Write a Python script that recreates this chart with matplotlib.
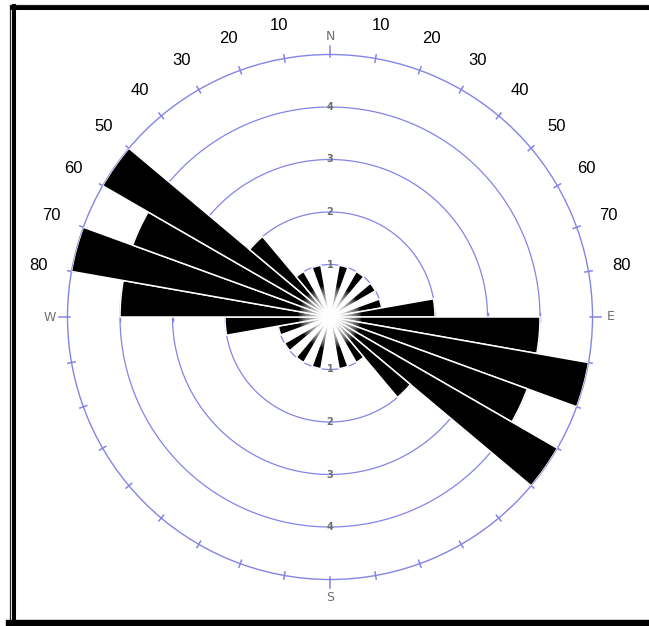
import numpy as np
import matplotlib
matplotlib.use("Agg")
import matplotlib.pyplot as plt
from matplotlib.lines import Line2D

# Bidirectional rose: counts per 10-degree strike bin (0-180, mirrored to 180-360)
bin_starts = list(range(0, 180, 10))
counts = [0, 1, 0, 1, 0, 1, 0, 1, 2, 4, 5, 4, 5, 2, 1, 0, 1, 0]
ring_values = [1, 2, 3, 4]
angle_labels = [10, 20, 30, 40, 50, 60, 70, 80]
cardinals = {"N": 0, "E": 90, "S": 180, "W": 270}
r_max = 5

W_PX, H_PX = 649, 626
CX, CY, RADIUS = 330, 317, 262.5
ring_color = "#8484e6"
label_gray = "#6e6e6e"

fig = plt.figure(figsize=(W_PX / 100, H_PX / 100), dpi=100)
fig.patch.set_facecolor("white")
ax = fig.add_axes([(CX - RADIUS) / W_PX, (H_PX - CY - RADIUS) / H_PX,
                   2 * RADIUS / W_PX, 2 * RADIUS / H_PX], projection="polar")
ax.set_theta_zero_location("N")
ax.set_theta_direction(-1)
ax.set_ylim(0, r_max)
ax.grid(False)
ax.set_xticks([])
ax.set_yticks([])
ax.spines["polar"].set_color(ring_color)
ax.spines["polar"].set_linewidth(1.0)

# concentric count rings
full = np.linspace(0, 2 * np.pi, 721)
for rv in ring_values:
    ax.plot(full, np.full_like(full, rv), color=ring_color, lw=0.9, zorder=1)

# petals
starts = np.deg2rad(np.array(bin_starts + [b + 180 for b in bin_starts], dtype=float))
lengths = np.array(counts + counts, dtype=float)
ax.bar(starts, lengths, width=np.deg2rad(10), align="edge", color="black",
       edgecolor="white", linewidth=1.1, zorder=3)

# soft white glow where the petals meet
for rr in np.linspace(0.6, 0.04, 20):
    ax.fill(full, np.full_like(full, rr), color="white", alpha=0.12, lw=0, zorder=4)

# degree ticks on the outer circle
for deg in range(0, 360, 10):
    t = np.deg2rad(deg)
    if deg % 90 == 0:
        ax.plot([t, t], [r_max - 0.05, r_max + 0.17], color=ring_color, lw=1.1,
                clip_on=False, zorder=2)
    else:
        ax.plot([t, t], [r_max - 0.07, r_max + 0.07], color=ring_color, lw=1.1,
                clip_on=False, zorder=2)

# ring ticks on the E-W line
for rv in ring_values:
    for side in (90, 270):
        d = 0.08
        t0 = np.deg2rad(side)
        dt = np.arctan2(d, rv)
        rr = np.hypot(rv, d)
        ax.plot([t0 - dt, t0 + dt], [rr, rr], color=ring_color, lw=1.0, zorder=2)

# ring labels on the N-S line
for rv in ring_values:
    for side in (0, 180):
        ax.text(np.deg2rad(side), rv, str(rv), color=label_gray, fontsize=7,
                fontweight="bold", ha="center", va="center", zorder=5,
                family="DejaVu Sans")

# cardinal letters
for name, deg in cardinals.items():
    ax.text(np.deg2rad(deg), r_max + 0.34, name, color=label_gray, fontsize=9,
            ha="center", va="center", clip_on=False, family="DejaVu Sans")

# angle labels either side of north
for a in angle_labels:
    for deg in (a, 360 - a):
        ax.text(np.deg2rad(deg), r_max + 0.64, str(a), color="black", fontsize=12,
                ha="center", va="center", clip_on=False, family="Liberation Sans")


def fx(x):
    return x / W_PX


def fy(y):
    return 1 - y / H_PX


# double frame on the top and left, heavy rule at the bottom
fig.add_artist(Line2D([fx(10), fx(10)], [fy(4.5), fy(626)], color="#222222", lw=0.9))
fig.add_artist(Line2D([fx(10), fx(649)], [fy(4.5), fy(4.5)], color="#222222", lw=0.9))
fig.add_artist(Line2D([fx(14), fx(14)], [fy(6), fy(626)], color="black", lw=2.9))
fig.add_artist(Line2D([fx(12), fx(649)], [fy(8), fy(8)], color="black", lw=2.9))
fig.add_artist(Line2D([fx(9), fx(649)], [fy(622.5), fy(622.5)], color="black", lw=4.6))

fig.savefig("out.png", dpi=100, facecolor="white")
